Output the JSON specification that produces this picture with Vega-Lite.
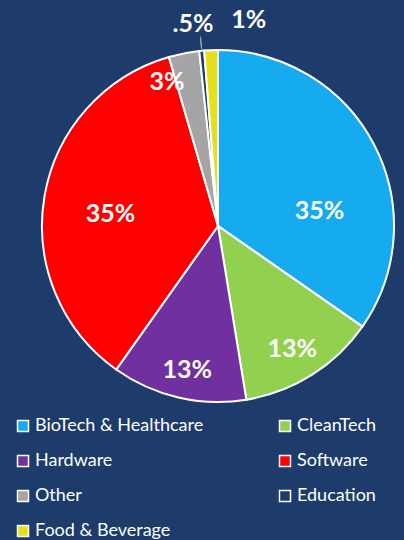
{
  "$schema": "https://vega.github.io/schema/vega-lite/v6.json",
  "width": 360,
  "height": 360,
  "autosize": "none",
  "padding": {"left": 38, "top": 46, "right": 6, "bottom": 134},
  "background": "#1D3B6B",
  "config": {"view": {"stroke": null}, "font": "Lato"},
  "data": {
    "values": [
      {"sector": "BioTech & Healthcare", "share": 34.7, "label": "35%"},
      {"sector": "CleanTech", "share": 12.75, "label": "13%"},
      {"sector": "Hardware", "share": 12.4, "label": "13%"},
      {"sector": "Software", "share": 35.7, "label": "35%"},
      {"sector": "Other", "share": 2.8, "label": "3%"},
      {"sector": "Education", "share": 0.45, "label": ".5%"},
      {"sector": "Food & Beverage", "share": 1.25, "label": "1%"}
    ]
  },
  "transform": [{"window": [{"op": "row_number", "as": "rank"}]}],
  "encoding": {
    "theta": {"field": "share", "type": "quantitative", "stack": true},
    "order": {"field": "rank", "type": "quantitative"},
    "detail": {"field": "sector", "type": "nominal"}
  },
  "layer": [
    {
      "mark": {"type": "arc", "outerRadius": 176, "stroke": "white", "strokeWidth": 2},
      "encoding": {
        "color": {
          "field": "sector",
          "type": "nominal",
          "scale": {
            "domain": ["BioTech & Healthcare", "CleanTech", "Hardware", "Software", "Other", "Education", "Food & Beverage"],
            "range": ["#16AAEF", "#92D050", "#7030A0", "#FF0000", "#A5A5A5", "#1D3B6B", "#E4E01B"]
          },
          "legend": {
            "orient": "none",
            "legendX": -24,
            "legendY": 371,
            "direction": "horizontal",
            "columns": 2,
            "title": null,
            "symbolType": "square",
            "symbolSize": 121,
            "symbolStrokeColor": "white",
            "symbolStrokeWidth": 1.5,
            "symbolOpacity": 1,
            "labelColor": "white",
            "labelFont": "Lato",
            "labelFontSize": 18,
            "labelOffset": 3,
            "labelLimit": 300,
            "columnPadding": 72,
            "rowPadding": 17,
            "padding": 0
          }
        }
      }
    },
    {
      "mark": {"type": "arc", "innerRadius": 178, "outerRadius": 190, "padAngle": 0.2, "fill": null, "stroke": "#A6A6A6", "strokeWidth": 1},
      "encoding": {
        "strokeOpacity": {"condition": {"test": "datum.sector === 'Education'", "value": 1}, "value": 0}
      }
    },
    {
      "mark": {"type": "text", "dx": 4, "dy": 36, "fill": "white", "fontWeight": "bold", "fontSize": 25},
      "encoding": {
        "radius": {"value": 110},
        "text": {"condition": {"test": "datum.sector === 'BioTech & Healthcare'", "field": "label"}, "value": ""}
      }
    },
    {
      "mark": {"type": "text", "dx": -3, "fill": "white", "fontWeight": "bold", "fontSize": 25},
      "encoding": {
        "radius": {"value": 145},
        "text": {"condition": {"test": "datum.sector === 'CleanTech'", "field": "label"}, "value": ""}
      }
    },
    {
      "mark": {"type": "text", "dx": 2, "dy": 3, "fill": "white", "fontWeight": "bold", "fontSize": 25},
      "encoding": {
        "radius": {"value": 145},
        "text": {"condition": {"test": "datum.sector === 'Hardware'", "field": "label"}, "value": ""}
      }
    },
    {
      "mark": {"type": "text", "dx": 1, "dy": 6, "fill": "white", "fontWeight": "bold", "fontSize": 25},
      "encoding": {
        "radius": {"value": 110},
        "text": {"condition": {"test": "datum.sector === 'Software'", "field": "label"}, "value": ""}
      }
    },
    {
      "mark": {"type": "text", "dx": -22, "dy": 3, "fill": "white", "fontWeight": "bold", "fontSize": 25},
      "encoding": {
        "radius": {"value": 150},
        "text": {"condition": {"test": "datum.sector === 'Other'", "field": "label"}, "value": ""}
      }
    },
    {
      "mark": {"type": "text", "dx": -6, "dy": 2, "fill": "white", "fontWeight": "bold", "fontSize": 25},
      "encoding": {
        "radius": {"value": 205},
        "text": {"condition": {"test": "datum.sector === 'Education'", "field": "label"}, "value": ""}
      }
    },
    {
      "mark": {"type": "text", "dx": 39, "dy": 2, "fill": "white", "fontWeight": "bold", "fontSize": 25},
      "encoding": {
        "radius": {"value": 208},
        "text": {"condition": {"test": "datum.sector === 'Food & Beverage'", "field": "label"}, "value": ""}
      }
    }
  ]
}
